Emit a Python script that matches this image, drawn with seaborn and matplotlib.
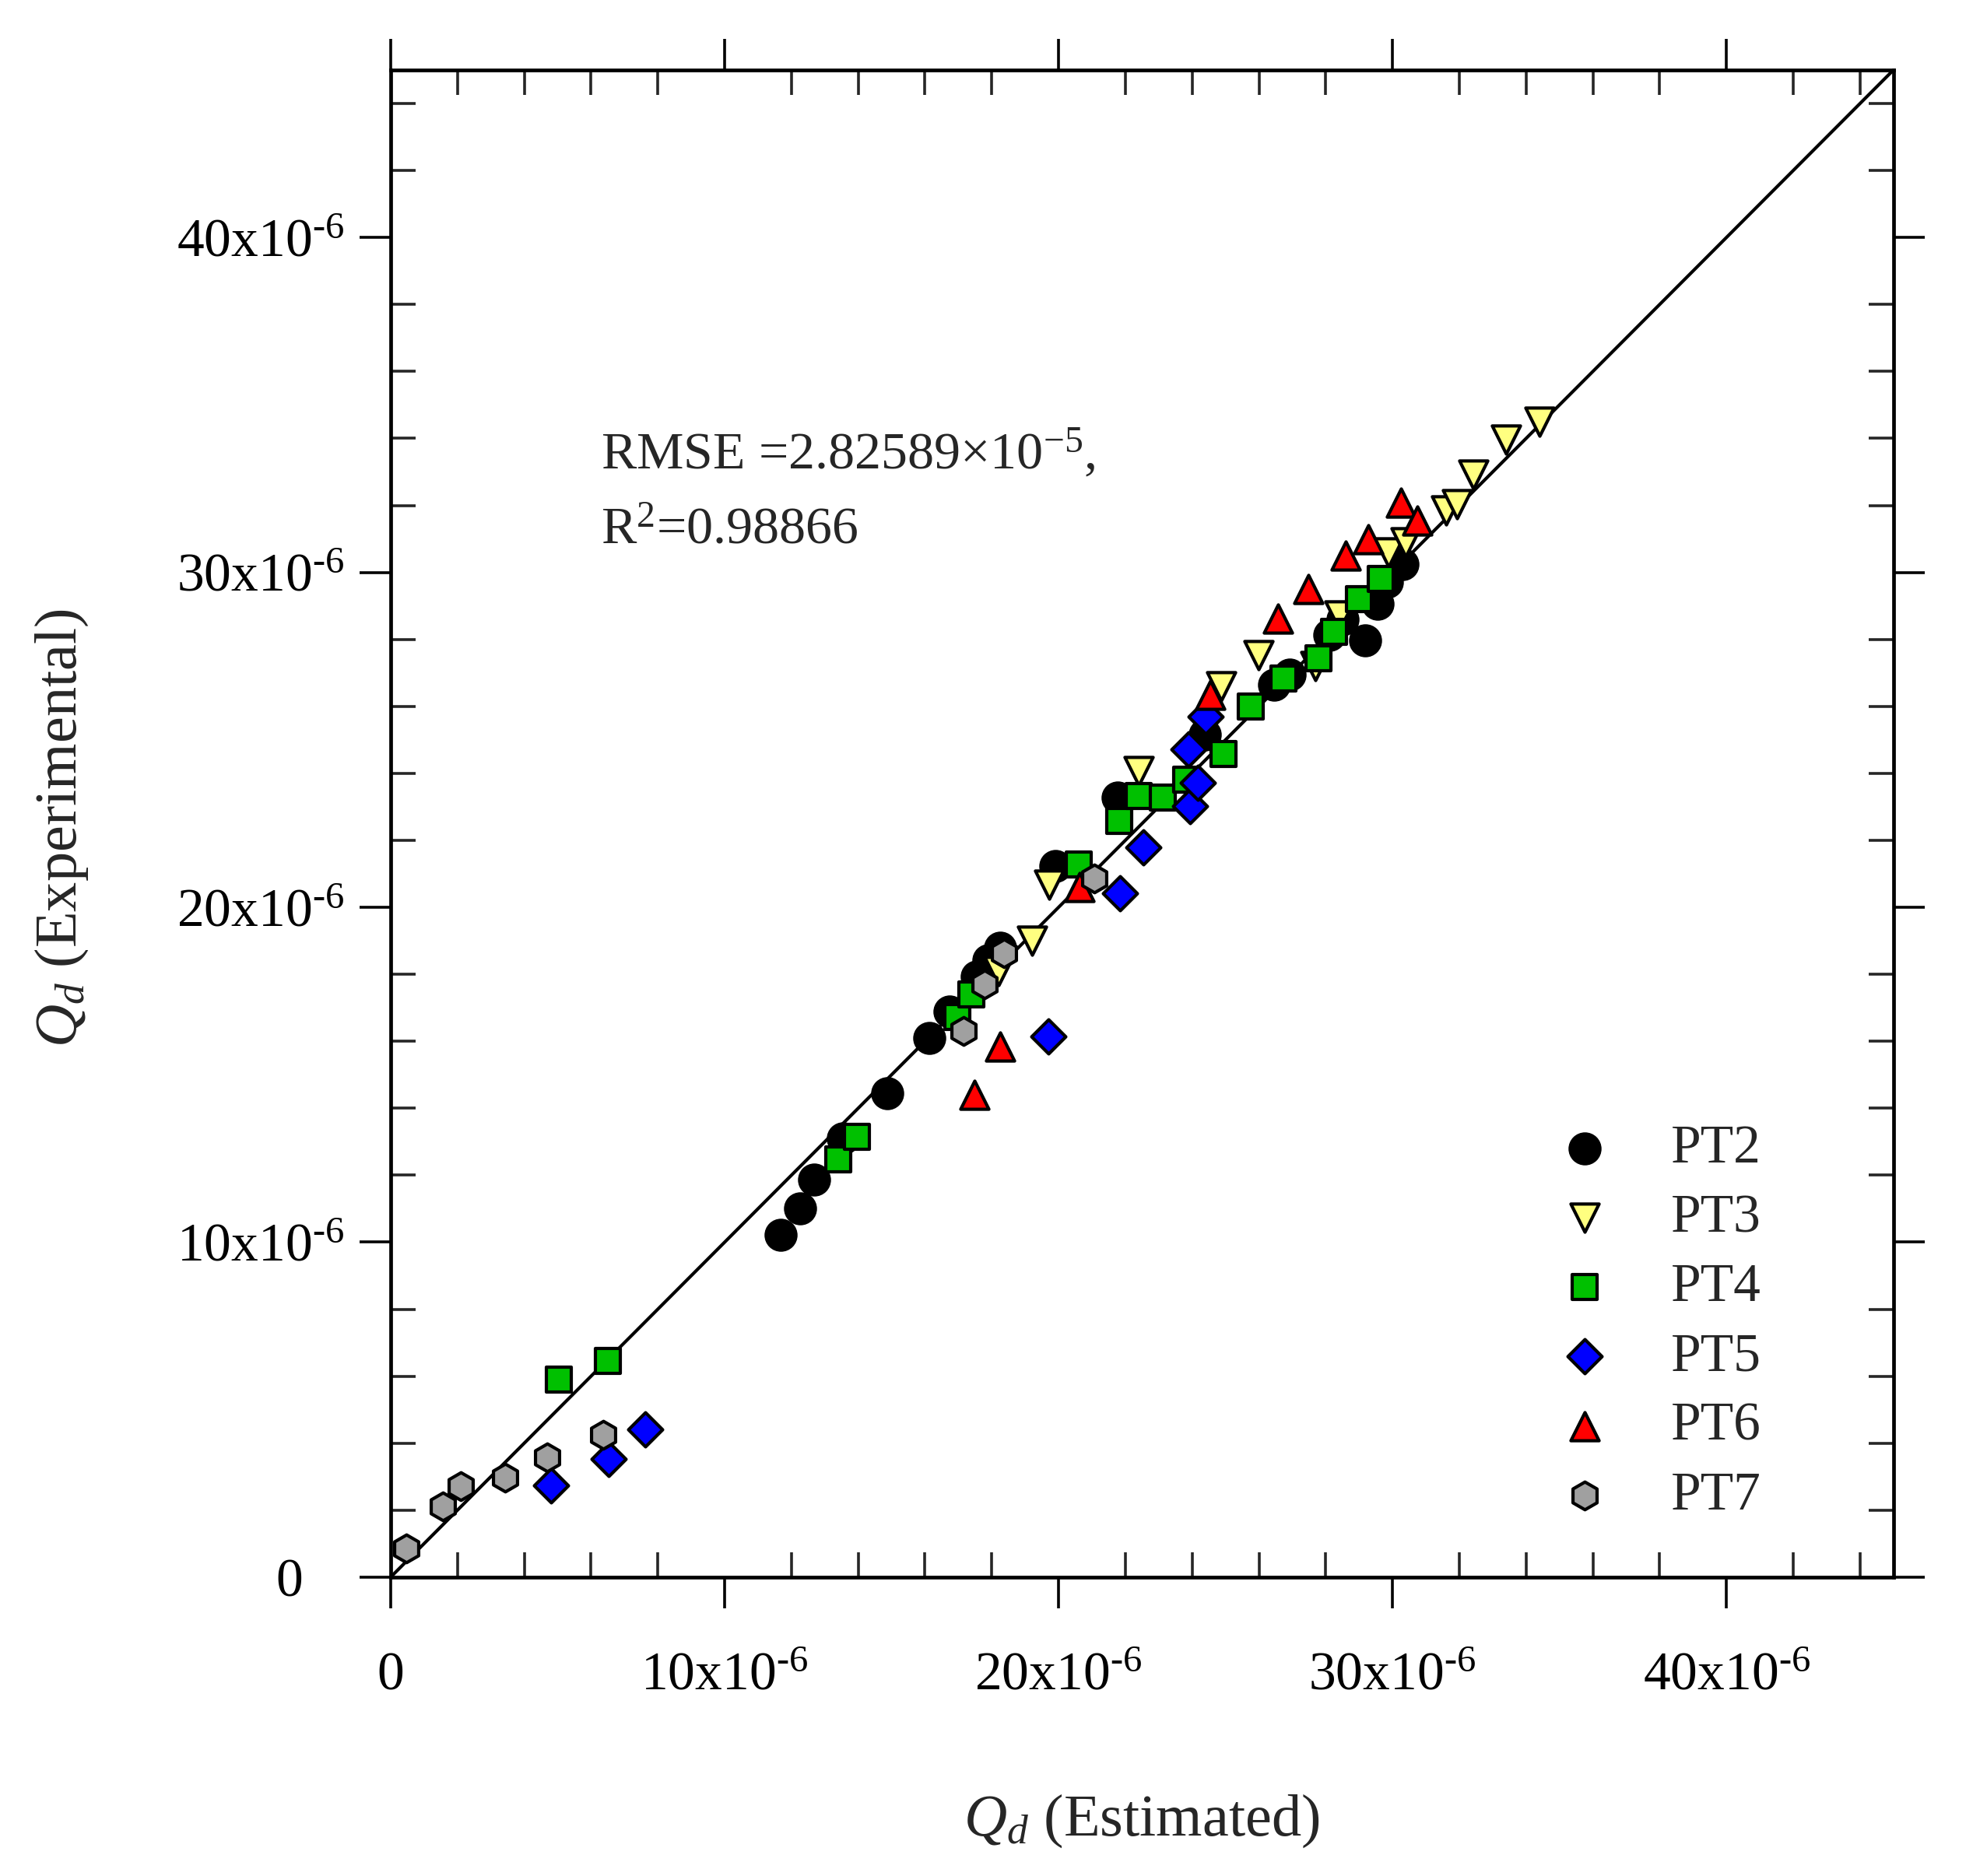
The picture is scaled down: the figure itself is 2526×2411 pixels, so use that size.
import numpy as np
import pandas as pd
import matplotlib
matplotlib.use("Agg")
import matplotlib.pyplot as plt
import seaborn as sns
from matplotlib.ticker import FixedLocator, FixedFormatter, MultipleLocator

# ---- data (values in units of 1e-6) ----
series_names = ["PT2", "PT3", "PT4", "PT5", "PT6", "PT7"]

pt2_est = [11.67, 12.25, 12.68, 13.55, 14.86, 16.12, 16.74, 17.55, 17.90, 18.24, 19.91,
           21.77, 24.38, 26.46, 26.93, 28.10, 28.50, 29.18, 29.55, 29.83, 30.30]
pt2_exp = [10.22, 11.00, 11.88, 13.10, 14.45, 16.09, 16.89, 17.94, 18.41, 18.79, 21.23,
           23.28, 25.16, 26.64, 26.94, 28.13, 28.60, 27.98, 29.07, 29.71, 30.25]

pt3_est = [18.20, 19.21, 19.71, 22.39, 24.88, 25.99, 27.70, 28.42, 29.88, 30.39, 31.61,
           31.94, 32.41, 33.39, 34.39]
pt3_exp = [18.10, 19.00, 20.68, 24.07, 26.59, 27.53, 27.20, 28.72, 30.60, 30.90, 31.84,
           32.03, 32.92, 33.96, 34.50]

pt4_est = [5.04, 6.50, 13.40, 13.97, 16.97, 17.39, 20.60, 21.82, 22.41, 23.13, 23.83,
           24.93, 25.75, 26.74, 27.78, 28.24, 28.99, 29.64]
pt4_exp = [5.89, 6.45, 12.47, 13.15, 16.72, 17.40, 21.27, 22.59, 23.33, 23.28, 23.82,
           24.57, 26.00, 26.84, 27.43, 28.22, 29.21, 29.81]

pt5_est = [4.81, 6.53, 7.63, 19.70, 21.84, 22.55, 23.93, 24.16, 23.88, 24.40]
pt5_exp = [2.75, 3.52, 4.41, 16.15, 20.43, 21.79, 23.03, 23.72, 24.71, 25.70]

pt6_est = [17.49, 18.24, 20.62, 24.54, 26.57, 27.49, 28.59, 29.27, 30.25, 30.75]
pt6_exp = [14.41, 15.84, 20.60, 26.35, 28.62, 29.51, 30.50, 31.00, 32.08, 31.54]

pt7_est = [0.46, 1.56, 2.10, 3.42, 4.69, 6.36, 17.15, 17.78, 18.36, 21.07]
pt7_exp = [0.86, 2.11, 2.71, 2.98, 3.57, 4.25, 16.30, 17.69, 18.62, 20.85]

unit = 1e-6
axis_max = 45
major_ticks = [0, 10, 20, 30, 40]
x_tick_labels = ["0", "10x10$^{\u2010 6}$", "20x10$^{\u20106}$", "30x10$^{\u20106}$", "40x10$^{\u20106}$"]
x_tick_labels[1] = "10x10$^{\u20106}$"
y_tick_labels = ["0   ", "10x10$^{\u20106}$", "20x10$^{\u20106}$", "30x10$^{\u20106}$", "40x10$^{\u20106}$"]

rmse_text = r"RMSE =2.82589×10$^{−5}$,"
r2_text = r"R$^{2}$=0.98866"

# ---- style ----
sns.set_style("ticks")
plt.rcParams['font.family'] = ['Liberation Serif', 'DejaVu Serif']
plt.rcParams['mathtext.fontset'] = 'custom'
plt.rcParams['mathtext.rm'] = 'Liberation Serif'
plt.rcParams['mathtext.it'] = 'Liberation Serif:italic'
plt.rcParams['mathtext.bf'] = 'Liberation Serif:bold'

fig = plt.figure(figsize=(25.26, 24.11), dpi=100)
ax = fig.add_axes([0.1987, 0.1593, 0.7644, 0.8034])

# 1:1 line
ax.plot([0, axis_max * unit], [0, axis_max * unit], color='black', lw=3.0, zorder=1)

styles = {
    "PT2": dict(marker='o', color='#000000', s=760),
    "PT3": dict(marker='v', color='#FFFF80', s=680),
    "PT4": dict(marker='s', color='#00C000', s=560),
    "PT5": dict(marker='D', color='#0000FF', s=500),
    "PT6": dict(marker='^', color='#FF0000', s=680),
    "PT7": dict(marker='h', color='#A0A0A0', s=660),
}
data = {
    "PT2": (pt2_est, pt2_exp),
    "PT3": (pt3_est, pt3_exp),
    "PT4": (pt4_est, pt4_exp),
    "PT5": (pt5_est, pt5_exp),
    "PT6": (pt6_est, pt6_exp),
    "PT7": (pt7_est, pt7_exp),
}

for i, name in enumerate(series_names):
    est, exp = data[name]
    df = pd.DataFrame({"est": np.array(est) * unit, "exp": np.array(exp) * unit})
    st = styles[name]
    sns.scatterplot(data=df, x="est", y="exp", ax=ax, marker=st['marker'],
                    color=st['color'], s=st['s'], edgecolor='black', linewidth=3.0,
                    label=name, zorder=3 + i)

ax.set_xlim(0, axis_max * unit)
ax.set_ylim(0, axis_max * unit)

for axis, labels in ((ax.xaxis, x_tick_labels), (ax.yaxis, y_tick_labels)):
    axis.set_major_locator(FixedLocator(np.array(major_ticks) * unit))
    axis.set_major_formatter(FixedFormatter(labels))
    axis.set_minor_locator(MultipleLocator(2 * unit))

ax.tick_params(which='major', direction='out', length=29, width=2.6,
               top=True, right=True, labelsize=50, colors='black')
ax.tick_params(axis='x', which='major', pad=40)
ax.tick_params(axis='y', which='major', pad=14)
ax.tick_params(which='minor', direction='in', length=23, width=2.6,
               top=True, right=True)

for sp in ax.spines.values():
    sp.set_linewidth(3.4)
    sp.set_color('black')
    sp.set_visible(True)

ax.set_xlabel(r"$Q_d$ (Estimated)", fontsize=55)
ax.set_ylabel(r"$Q_d$ (Experimental)", fontsize=55)
ax.xaxis.set_label_coords(0.5, -0.162)
ax.xaxis.label.set_va('center')
ax.yaxis.set_label_coords(-0.219, 0.497)
ax.yaxis.label.set_va('center')

ax.text(6.3 * unit, 33.1 * unit, rmse_text, fontsize=49, ha='left', va='baseline')
ax.text(6.3 * unit, 30.86 * unit, r2_text, fontsize=49, ha='left', va='baseline')

leg = ax.legend(loc='lower right', bbox_to_anchor=(0.912, 0.037), frameon=False,
                fontsize=50, handlelength=1.0, handletextpad=1.1,
                labelspacing=0.37, borderaxespad=0, borderpad=0)

fig.savefig("out.png", dpi=100)
